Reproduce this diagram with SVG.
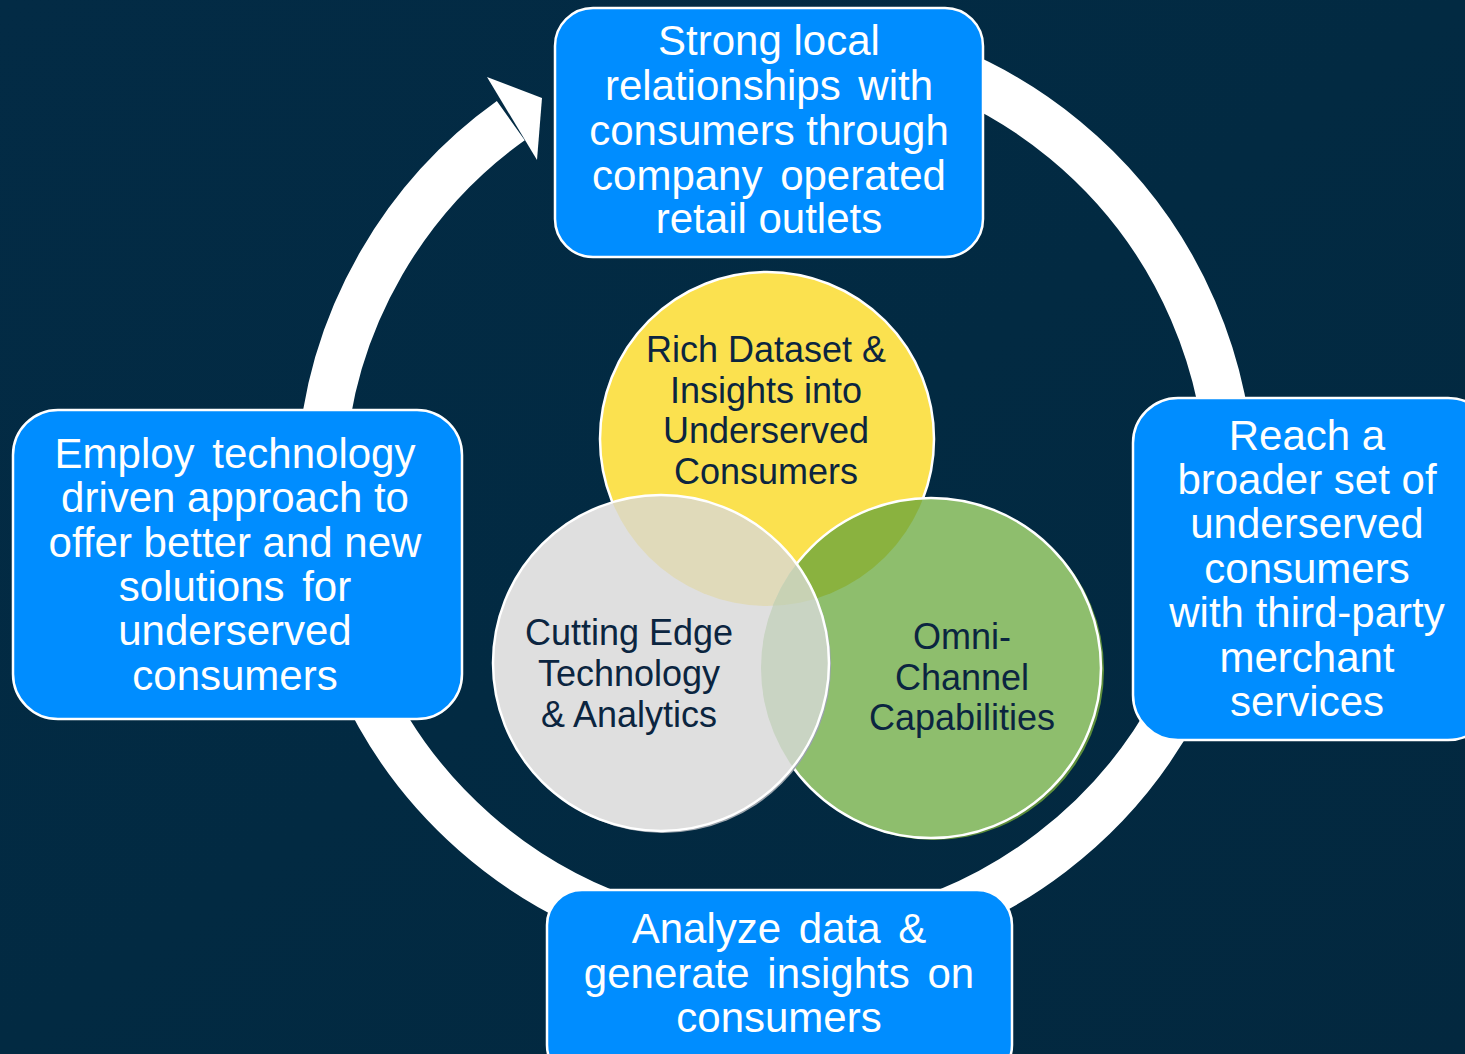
<svg xmlns="http://www.w3.org/2000/svg" width="1465" height="1054" viewBox="0 0 1465 1054">
<defs>
<style>
.box{fill:#008DFF;stroke:#FFFFFF;stroke-width:2.5}
.bt{font-family:"Liberation Sans",Arial,sans-serif;font-size:42px;fill:#FFFFFF;text-anchor:middle}
.vt{font-family:"Liberation Sans",Arial,sans-serif;font-size:36px;fill:#0B2540;text-anchor:middle}
.ring{fill:none;stroke:#FFFFFF;stroke-width:48}
.ws{word-spacing:6px}
</style>
<linearGradient id="bg" x1="0" y1="0" x2="1" y2="1">
<stop offset="0" stop-color="#032B45"/>
<stop offset="0.5" stop-color="#022A42"/>
<stop offset="1" stop-color="#03283F"/>
</linearGradient>
<clipPath id="cY"><circle cx="767" cy="439" r="167"/></clipPath>
<clipPath id="cG"><circle cx="931" cy="668" r="170"/></clipPath>
</defs>
<rect x="0" y="0" width="1465" height="1054" fill="url(#bg)"/>

<g id="connectors">
<path class="ring" d="M 893.8 51.5 A 455 455 0 1 1 510.8 120.6"/>
<polygon points="487,77 542,98 537,160" fill="#FFFFFF"/>
</g>

<g id="venn">
<g id="circle-yellow">
<circle cx="767" cy="439" r="167" fill="#FBE14F" stroke="#FFFFFF" stroke-width="2.5"/>
</g>
<g id="circle-green">
<circle cx="934" cy="670" r="170" fill="#5E8E3C"/>
<circle cx="931" cy="668" r="170" fill="#8EBE6D"/>
<circle cx="931" cy="668" r="170" fill="#8AB23F" clip-path="url(#cY)"/>
<circle cx="931" cy="668" r="170" fill="none" stroke="#FFFFFF" stroke-width="2.5"/>
</g>
<g id="circle-gray">
<circle cx="663" cy="665" r="168" fill="#9AA3AC"/>
<circle cx="661" cy="663" r="168" fill="#DFDFDF"/>
<circle cx="661" cy="663" r="168" fill="#E0DABA" clip-path="url(#cY)"/>
<circle cx="661" cy="663" r="168" fill="#C9D4C3" clip-path="url(#cG)"/>
<g clip-path="url(#cY)"><circle cx="661" cy="663" r="168" fill="#C8D2B4" clip-path="url(#cG)"/></g>
<circle cx="661" cy="663" r="168" fill="none" stroke="#FFFFFF" stroke-width="2.5"/>
</g>
<text class="vt"><tspan x="766" y="362">Rich Dataset &amp;</tspan><tspan x="766" y="403">Insights into</tspan><tspan x="766" y="443">Underserved</tspan><tspan x="766" y="484">Consumers</tspan></text>
<text class="vt"><tspan x="629" y="645">Cutting Edge</tspan><tspan x="629" y="686">Technology</tspan><tspan x="629" y="727">&amp; Analytics</tspan></text>
<text class="vt"><tspan x="962" y="649">Omni-</tspan><tspan x="962" y="690">Channel</tspan><tspan x="962" y="730">Capabilities</tspan></text>
</g>

<g id="node-top">
<rect class="box" x="555" y="8" width="428" height="249" rx="38"/>
<text class="bt"><tspan x="769" y="55">Strong local</tspan><tspan class="ws" x="769" y="100">relationships with</tspan><tspan x="769" y="145">consumers through</tspan><tspan class="ws" x="769" y="190">company operated</tspan><tspan x="769" y="233">retail outlets</tspan></text>
</g>

<g id="node-right">
<rect class="box" x="1133" y="398" width="360" height="342" rx="45"/>
<text class="bt"><tspan x="1307" y="450">Reach a</tspan><tspan x="1307" y="494">broader set of</tspan><tspan x="1307" y="538">underserved</tspan><tspan x="1307" y="583">consumers</tspan><tspan x="1307" y="627">with third-party</tspan><tspan x="1307" y="672">merchant</tspan><tspan x="1307" y="716">services</tspan></text>
</g>

<g id="node-bottom">
<rect class="box" x="547" y="890" width="465" height="190" rx="35"/>
<text class="bt"><tspan class="ws" x="779" y="943">Analyze data &amp;</tspan><tspan class="ws" x="779" y="988">generate insights on</tspan><tspan x="779" y="1032">consumers</tspan></text>
</g>

<g id="node-left">
<rect class="box" x="13" y="410" width="449" height="309" rx="45"/>
<text class="bt"><tspan class="ws" x="235" y="468">Employ technology</tspan><tspan x="235" y="512">driven approach to</tspan><tspan x="235" y="557">offer better and new</tspan><tspan class="ws" x="235" y="601">solutions for</tspan><tspan x="235" y="645">underserved</tspan><tspan x="235" y="690">consumers</tspan></text>
</g>
</svg>
